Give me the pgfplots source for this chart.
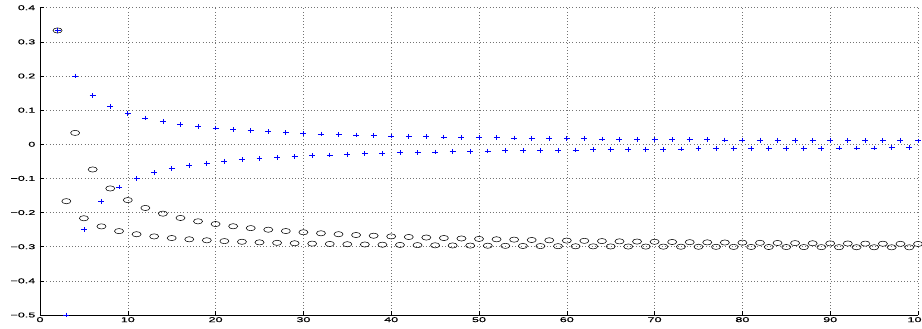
\documentclass[border=0pt]{standalone}
\usepackage{fontspec}
\usepackage{pgfplots}
\pgfplotsset{compat=1.18}
\usetikzlibrary{calc}
\newfontfamily\tickfont[FakeStretch=1.8,FakeBold=0.4]{Liberation Sans}
\begin{document}
\begin{tikzpicture}
\begin{axis}[
  name=ax,
  scale only axis,
  width=878bp, height=307.3bp,
  xmin=0, xmax=100, ymin=-0.5, ymax=0.4,
  axis lines*=left,
  axis line style={black, line width=0.6pt},
  tick align=inside,
  major tick length=4bp,
  tick style={black, line width=0.5pt},
  xtick={0,10,...,100},
  ytick={-0.5,-0.4,-0.3,-0.2,-0.1,0,0.1,0.2,0.3,0.4},
  yticklabels={−0.5,−0.4,−0.3,−0.2,−0.1,0,0.1,0.2,0.3,0.4},
  /pgf/number format/assume math mode=true,
  tick label style={font=\tickfont\fontsize{7}{8}\selectfont},
  yticklabel style={inner xsep=4.5bp},
  xticklabel style={inner ysep=2bp},
  grid=major,
  grid style={black!55, line width=0.5pt, dash pattern=on 0.6pt off 2.6pt},
]
\addplot[only marks, mark=o, mark size=2.6pt, mark options={xscale=1.75, line width=0.55pt}, black] coordinates {
(2,0.333333)(3,-0.166667)(4,0.033333)(5,-0.216667)(6,-0.073810)(7,-0.240476)(8,-0.129365)(9,-0.254365)(10,-0.163456)
(11,-0.263456)(12,-0.186533)(13,-0.269866)(14,-0.203199)(15,-0.274628)(16,-0.215804)(17,-0.278304)(18,-0.225672)(19,-0.281228)(20,-0.233609)
(21,-0.283609)(22,-0.240131)(23,-0.285586)(24,-0.245586)(25,-0.287253)(26,-0.250216)(27,-0.288678)(28,-0.254195)(29,-0.289909)(30,-0.257651)
(31,-0.290984)(32,-0.260681)(33,-0.291931)(34,-0.263360)(35,-0.292772)(36,-0.265745)(37,-0.293523)(38,-0.267882)(39,-0.294198)(40,-0.269808)
(41,-0.294808)(42,-0.271552)(43,-0.295362)(44,-0.273140)(45,-0.295867)(46,-0.274590)(47,-0.296329)(48,-0.275921)(49,-0.296754)(50,-0.277146)
(51,-0.297146)(52,-0.278278)(53,-0.297509)(54,-0.279327)(55,-0.297846)(56,-0.280302)(57,-0.298159)(58,-0.281210)(59,-0.298451)(60,-0.282058)
(61,-0.298725)(62,-0.282852)(63,-0.298981)(64,-0.283596)(65,-0.299221)(66,-0.284296)(67,-0.299448)(68,-0.284955)(69,-0.299661)(70,-0.285576)
(71,-0.299862)(72,-0.286163)(73,-0.300052)(74,-0.286719)(75,-0.300233)(76,-0.287246)(77,-0.300404)(78,-0.287746)(79,-0.300567)(80,-0.288221)
(81,-0.300721)(82,-0.288673)(83,-0.300868)(84,-0.289103)(85,-0.301008)(86,-0.289514)(87,-0.301142)(88,-0.289906)(89,-0.301270)(90,-0.290281)
(91,-0.301392)(92,-0.290639)(93,-0.301509)(94,-0.290983)(95,-0.301621)(96,-0.291312)(97,-0.301729)(98,-0.291628)(99,-0.301832)(100,-0.291931)
};
\addplot[only marks, mark=+, mark size=3pt, mark options={yscale=0.8, line width=0.8pt}, blue] coordinates {
(2,0.333333)(3,-0.5)(4,0.2)(5,-0.25)(6,0.142857)(7,-0.166667)(8,0.111111)(9,-0.125)(10,0.090909)
(11,-0.1)(12,0.076923)(13,-0.083333)(14,0.066667)(15,-0.071429)(16,0.058824)(17,-0.0625)(18,0.052632)(19,-0.055556)(20,0.047619)
(21,-0.05)(22,0.043478)(23,-0.045455)(24,0.04)(25,-0.041667)(26,0.037037)(27,-0.038462)(28,0.034483)(29,-0.035714)(30,0.032258)
(31,-0.033333)(32,0.030303)(33,-0.03125)(34,0.028571)(35,-0.029412)(36,0.027027)(37,-0.027778)(38,0.025641)(39,-0.026316)(40,0.024390)
(41,-0.025)(42,0.023256)(43,-0.023810)(44,0.022222)(45,-0.022727)(46,0.021277)(47,-0.021739)(48,0.020408)(49,-0.020833)(50,0.019608)
(51,-0.02)(52,0.018868)(53,-0.019231)(54,0.018182)(55,-0.018519)(56,0.017544)(57,-0.017857)(58,0.016949)(59,-0.017241)(60,0.016393)
(61,-0.016667)(62,0.015873)(63,-0.016129)(64,0.015385)(65,-0.015625)(66,0.014925)(67,-0.015152)(68,0.014493)(69,-0.014706)(70,0.014085)
(71,-0.014286)(72,0.013699)(73,-0.013889)(74,0.013333)(75,-0.013514)(76,0.012987)(77,-0.013158)(78,0.012658)(79,-0.012821)(80,0.012346)
(81,-0.0125)(82,0.012048)(83,-0.012195)(84,0.011765)(85,-0.011905)(86,0.011494)(87,-0.011628)(88,0.011236)(89,-0.011364)(90,0.010989)
(91,-0.011111)(92,0.010753)(93,-0.010870)(94,0.010526)(95,-0.010638)(96,0.010309)(97,-0.010417)(98,0.010101)(99,-0.010204)(100,0.009901)
};
\end{axis}
\pgfresetboundingbox
\path[use as bounding box] ($(ax.south west)+(-40bp,-14bp)$) rectangle ($(ax.north east)+(4bp,7.7bp)$);
\end{tikzpicture}
\end{document}
